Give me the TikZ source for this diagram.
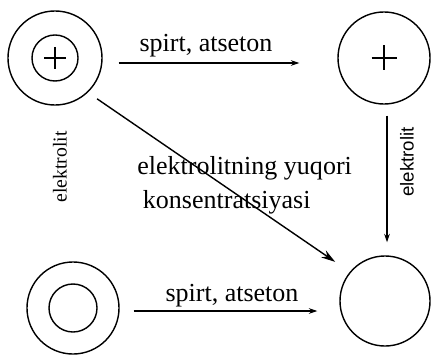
\documentclass[tikz,border=0pt]{standalone}
\usepackage{fontspec}
\setmainfont{Liberation Serif}
\setsansfont{Liberation Sans}
\usetikzlibrary{arrows.meta,calc}
\tikzset{
  ring/.style={circle, draw, line width=1pt, inner sep=0pt, minimum size=#1},
  flow/.style={-{Stealth[length=6pt, width=4pt]}, line width=1pt},
  bigflow/.style={-{Stealth[length=10pt, width=6pt]}, line width=1pt},
  lbl/.style={font=\rmfamily\fontsize{18.5}{24}\selectfont, inner sep=0pt},
  side/.style={font=\rmfamily\fontsize{14}{16}\selectfont, rotate=90, inner sep=0pt},
}
\newcommand{\plusin}[2]{% node, half length (px)
  \draw[line width=1.4pt] ($(#1)+(-#2,0)$) -- ($(#1)+(#2,0)$)
    ($(#1)+(0,-#2)$) -- ($(#1)+(0,#2)$);}

\begin{document}
\begin{tikzpicture}[x=0.025cm, y=-0.025cm]
  \useasboundingbox (0,0) rectangle (431,354);
  % ions
  \node[ring=2.35cm] (tl) at (55,58) {};
  \node[ring=1.15cm] (tlin) at (tl) {};
  \node[ring=2.3cm] (tr) at (384,58) {};
  \node[ring=2.3cm] (bl) at (73,308) {};
  \node[ring=1.2cm] (blin) at (bl) {};
  \node[ring=2.25cm] (br) at (385,301) {};
  \plusin{tl}{11}
  \plusin{tr}{12.5}
  % transitions
  \draw[flow, shorten <=0.4cm, shorten >=0.95cm] ([yshift=-0.125cm]tl.east) -- ([yshift=-0.125cm]tl.east -| tr.west);
  \draw[flow, shorten <=0.35cm, shorten >=0.55cm] ([yshift=-0.075cm]bl.east) -- ([yshift=-0.075cm]bl.east -| br.west);
  \draw[flow, shorten <=0.275cm, shorten >=0.325cm] ([xshift=0.075cm]tr.south) -- ([xshift=0.075cm]tr.south |- br.north);
  \draw[bigflow, shorten <=1.275cm, shorten >=1.51cm] ([yshift=-0.3cm]tl.center) -- ([yshift=0.125cm]br.center);
  % labels
  \node[lbl] (toplbl) at (206,46) {spirt, atseton};
  \node[lbl] (botlbl) at (232,296) {spirt, atseton};
  \node[side] (leftlbl) at (60,167) {elektrolit};
  \node[side, font=\sffamily\fontsize{13.3}{16}\selectfont] (rightlbl) at (407,162) {elektrolit};
  \node[lbl, anchor=west, align=left] (midlbl) at (137,185) {elektrolitning yuqori\\\hspace*{4pt}konsentratsiyasi};
\end{tikzpicture}
\end{document}
